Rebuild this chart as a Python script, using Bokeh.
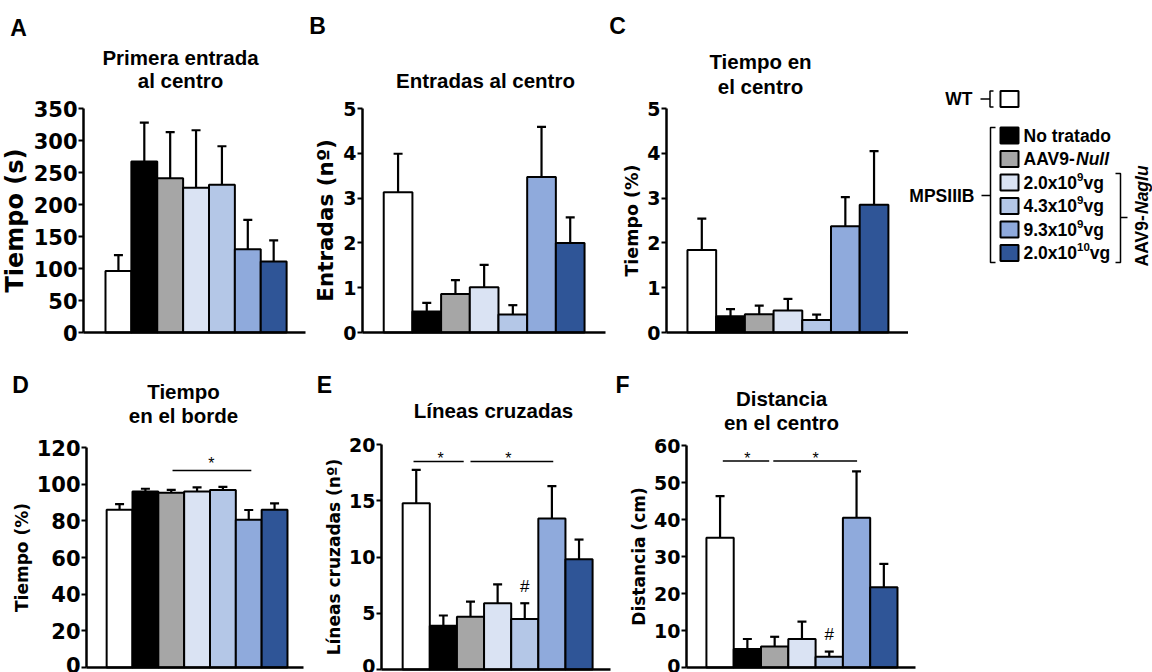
import math
from bokeh.plotting import figure
from bokeh.models import Range1d, FixedTicker, Whisker, TeeHead, ColumnDataSource
from bokeh.layouts import row, column
from bokeh.embed import file_html
from bokeh.resources import INLINE
from bokeh.core.properties import value

# ---------------- data ----------------
GROUPS = ["WT", "No tratado", "AAV9-Null", "2.0x10^9vg", "4.3x10^9vg", "9.3x10^9vg", "2.0x10^10vg"]
COLORS = ["#FFFFFF", "#000000", "#A6A6A6", "#DAE3F3", "#B4C7E7", "#8FAADC", "#2F5597"]

A_MEAN = [96, 267, 241, 226, 231, 130, 111]
A_UPPER = [121, 328, 313, 316, 291, 176, 144]
A_TICKS = [0, 50, 100, 150, 200, 250, 300, 350]

B_MEAN = [3.13, 0.47, 0.86, 1.01, 0.40, 3.47, 2.00]
B_UPPER = [3.99, 0.66, 1.17, 1.51, 0.61, 4.59, 2.57]
B_TICKS = [0, 1, 2, 3, 4, 5]

C_MEAN = [1.84, 0.36, 0.41, 0.49, 0.28, 2.37, 2.85]
C_UPPER = [2.54, 0.52, 0.60, 0.75, 0.40, 3.02, 4.05]
C_TICKS = [0, 1, 2, 3, 4, 5]

D_MEAN = [86.0, 96.0, 95.3, 96.0, 96.8, 80.6, 86.0]
D_UPPER = [89.1, 97.5, 96.9, 98.2, 98.5, 85.9, 89.5]
D_TICKS = [0, 20, 40, 60, 80, 100, 120]

E_MEAN = [14.77, 3.9, 4.7, 5.89, 4.5, 13.43, 9.8]
E_UPPER = [17.74, 4.8, 6.04, 7.56, 5.89, 16.3, 11.55]
E_TICKS = [0, 5, 10, 15, 20]

F_MEAN = [35.1, 5.0, 5.7, 7.7, 2.9, 40.5, 21.7]
F_UPPER = [46.3, 7.7, 8.3, 12.4, 4.3, 53.0, 28.0]
F_TICKS = [0, 10, 20, 30, 40, 50, 60]

# significance annotations: (x_start, x_end, y_line, star_x, star_y)
D_SIG = [(3.05, 6.1, 107.5, 4.55, 111.4)]
E_SIG = [(0.9, 2.75, 18.5, 1.9, 18.8), (3.0, 6.05, 18.5, 4.4, 18.8)]
F_SIG = [(1.1, 2.8, 55.8, 2.0, 56.6), (2.95, 6.02, 55.8, 4.5, 56.6)]
E_HASH = [(5, 7.4)]
F_HASH = [(5, 8.9)]

TITLE_FONT = "Liberation Sans"
TICK_FONT = "DejaVu Sans"

ROW1 = (0, 345)
ROW2 = (345, 672)


def make_panel(letter, title_lines, title_x, letter_xy, ylabel, mean, upper, ticks, ymax,
               fig_lr, rows, FL, FR, FT, FB, xr0, xr1, tick_size, label_size,
               sigs=(), hashes=()):
    fig_left, fig_right = fig_lr
    row_top, row_bot = rows
    kx = (FR - FL) / (xr1 - xr0)
    ky = (FB - FT) / ymax
    x_range = Range1d(xr0 - (FL - fig_left) / kx, xr1 + (fig_right - FR) / kx)
    y_range = Range1d(-(row_bot - FB) / ky, ymax + (FT - row_top) / ky)

    def X(px):
        return xr0 + (px - FL) / kx

    def Y(py):
        return (FB - py) / ky

    p = figure(width=fig_right - fig_left, height=row_bot - row_top, min_border=0,
               x_range=x_range, y_range=y_range,
               output_backend="svg", toolbar_location=None)
    p.grid.visible = False
    p.outline_line_color = None
    p.background_fill_color = "white"
    p.border_fill_color = "white"

    xs = list(range(1, len(mean) + 1))
    src = ColumnDataSource(dict(x=xs, top=mean, upper=upper, color=COLORS))
    p.vbar(x="x", top="top", bottom=0, width=1.0, fill_color="color",
           line_color="black", line_width=2, source=src)
    p.add_layout(Whisker(source=src, base="x", lower="top", upper="upper",
                         dimension="height", line_color="black", line_width=2.2,
                         upper_head=TeeHead(size=9, line_color="black", line_width=2.2),
                         lower_head=None))

    yax = p.yaxis[0]
    yax.fixed_location = xr0
    yax.bounds = (0, ymax)
    yax.ticker = FixedTicker(ticks=ticks)
    yax.axis_line_width = 2.5
    yax.axis_line_color = "black"
    yax.major_tick_line_width = 2
    yax.major_tick_out = 5
    yax.major_tick_in = 0
    yax.minor_tick_line_color = None
    yax.major_label_text_font = TICK_FONT
    yax.major_label_text_font_style = "bold"
    yax.major_label_text_font_size = f"{tick_size}px"
    yax.major_label_text_color = "black"
    yax.major_label_standoff = 1
    yax.axis_label = ylabel
    yax.axis_label_text_font = TICK_FONT
    yax.axis_label_text_font_style = "bold"
    yax.axis_label_text_font_size = f"{label_size}px"
    yax.axis_label_text_color = "black"
    yax.axis_label_standoff = 2

    xax = p.xaxis[0]
    xax.fixed_location = 0
    xax.bounds = (xr0, xr1)
    xax.ticker = FixedTicker(ticks=[])
    xax.axis_line_width = 2.5
    xax.axis_line_color = "black"
    xax.major_tick_out = 0
    xax.major_tick_in = 0
    xax.minor_tick_line_color = None

    for (x0, x1, yl, sx, sy) in sigs:
        p.segment(x0=[x0], y0=[yl], x1=[x1], y1=[yl], line_color="black", line_width=1.5)
        p.text(x=[sx], y=[sy], text=["*"], text_align="center", text_baseline="middle",
               text_font=value("Liberation Sans"), text_font_size="16px", text_color="black")
    for (hx, hy) in hashes:
        p.text(x=[hx], y=[hy], text=["#"], text_align="center", text_baseline="middle",
               text_font=value("Liberation Sans"), text_font_size="17px", text_color="black")

    for (t, ty) in title_lines:
        p.text(x=[X(title_x)], y=[Y(ty)], text=[t], text_align="center", text_baseline="middle",
               text_font=value(TITLE_FONT), text_font_style="bold", text_font_size="20.5px",
               text_color="black")
    lx, ly = letter_xy
    p.text(x=[X(lx)], y=[Y(ly)], text=[letter], text_align="center", text_baseline="middle",
           text_font=value(TITLE_FONT), text_font_style="bold", text_font_size="23px",
           text_color="black")
    return p


pA = make_panel("A", [("Primera entrada", 57), ("al centro", 80)], 180, (18, 27),
                "Tiempo (s)", A_MEAN, A_UPPER, A_TICKS, 350,
                (0, 308), ROW1, 83, 305, 108, 332, -0.35, 8.23, 21, 24)
pB = make_panel("B", [("Entradas al centro", 80)], 485, (317, 25),
                "Entradas (nº)", B_MEAN, B_UPPER, B_TICKS, 5,
                (308, 609), ROW1, 362, 605, 108, 332, -0.24, 8.23, 19, 21.5)
pC = make_panel("C", [("Tiempo en", 61), ("el centro", 86)], 760, (617, 25),
                "Tiempo (%)", C_MEAN, C_UPPER, C_TICKS, 5,
                (609, 908), ROW1, 666, 908, 108, 332, -0.23, 8.2, 19, 17.5)

pD = make_panel("D", [("Tiempo", 391), ("en el borde", 415)], 183, (20, 384),
                "Tiempo (%)", D_MEAN, D_UPPER, D_TICKS, 120,
                (0, 308), ROW2, 86, 303, 447, 667, -0.28, 8.12, 21, 17, sigs=D_SIG)
pE = make_panel("E", [("Líneas cruzadas", 410)], 493, (324, 384),
                "Líneas cruzadas (nº)", E_MEAN, E_UPPER, E_TICKS, 20,
                (308, 612), ROW2, 381, 610, 444, 669, -0.28, 8.16, 19, 17,
                sigs=E_SIG, hashes=E_HASH)
pF = make_panel("F", [("Distancia", 398), ("en el centro", 422)], 781, (622, 384),
                "Distancia (cm)", F_MEAN, F_UPPER, F_TICKS, 60,
                (612, 920), ROW2, 686, 915, 445, 667, -0.23, 8.16, 19, 17,
                sigs=F_SIG, hashes=F_HASH)

# ---------------- legend panel (page-pixel coordinates) ----------------
LEG_LEFT, LEG_RIGHT = 908, 1152
pL = figure(width=LEG_RIGHT - LEG_LEFT, height=ROW1[1] - ROW1[0],
            x_range=Range1d(LEG_LEFT, LEG_RIGHT), y_range=Range1d(ROW1[1], ROW1[0]),
            min_border=0, output_backend="svg", toolbar_location=None,
            x_axis_type=None, y_axis_type=None)
pL.grid.visible = False
pL.outline_line_color = None

WT_Y = 98.5
ROW0_Y, ROW_STEP = 135, 23.5
rows_y = [WT_Y] + [ROW0_Y + ROW_STEP * i for i in range(len(GROUPS) - 1)]
BOX_X, BOX_W, BOX_H = 1009, 18, 16
TXT_X = 1023
LEG_FS = 17.5
pL.rect(x=[BOX_X] * len(GROUPS), y=rows_y, width=BOX_W, height=BOX_H,
        fill_color=COLORS, line_color="black", line_width=2)

fontv = value("Liberation Sans")


def ltext(x, y, t, size=LEG_FS, style="bold", align="left", angle=0.0):
    pL.text(x=[x], y=[y], text=[t], text_align=align, text_baseline="middle",
            text_font=fontv, text_font_style=style, text_font_size=f"{size}px",
            text_color="black", angle=angle)


ltext(TXT_X, rows_y[1], "No tratado")
ltext(TXT_X, rows_y[2], "AAV9-")
ltext(TXT_X + 3.0 * LEG_FS, rows_y[2], "Null", style="bold italic")
DOSES = [("2.0x10", "9"), ("4.3x10", "9"), ("9.3x10", "9"), ("2.0x10", "10")]
for i, (base, exp) in enumerate(DOSES):
    y = rows_y[3 + i]
    ltext(TXT_X, y, base)
    bw = 3.058 * LEG_FS
    ltext(TXT_X + bw, y - 6, exp, size=11.5)
    ew = 0.556 * 11.5 * len(exp)
    ltext(TXT_X + bw + ew, y, "vg")

# WT bracket
ltext(972, WT_Y, "WT", align="right")
pL.multi_line(xs=[[980, 989.5], [993, 989.5, 989.5, 993]],
              ys=[[WT_Y, WT_Y], [90.5, 90.5, 106.5, 106.5]],
              line_color="black", line_width=1.5)
# MPSIIIB bracket
ltext(974, 195, "MPSIIIB", align="right")
pL.multi_line(xs=[[981, 990], [995, 990, 990, 995]],
              ys=[[195, 195], [127, 127, 262, 262]],
              line_color="black", line_width=1.5)
# AAV9-Naglu bracket
pL.multi_line(xs=[[1127, 1120], [1115, 1120, 1120, 1115]],
              ys=[[217, 217], [173, 173, 262, 262]],
              line_color="black", line_width=1.5)
ltext(1141, 266, "AAV9-", angle=math.pi / 2)
ltext(1141, 266 - 3.0 * LEG_FS, "Naglu", style="bold italic", angle=math.pi / 2)

layout = column(row(pA, pB, pC, pL), row(pD, pE, pF))
open("out.html", "w").write(file_html(layout, INLINE))
